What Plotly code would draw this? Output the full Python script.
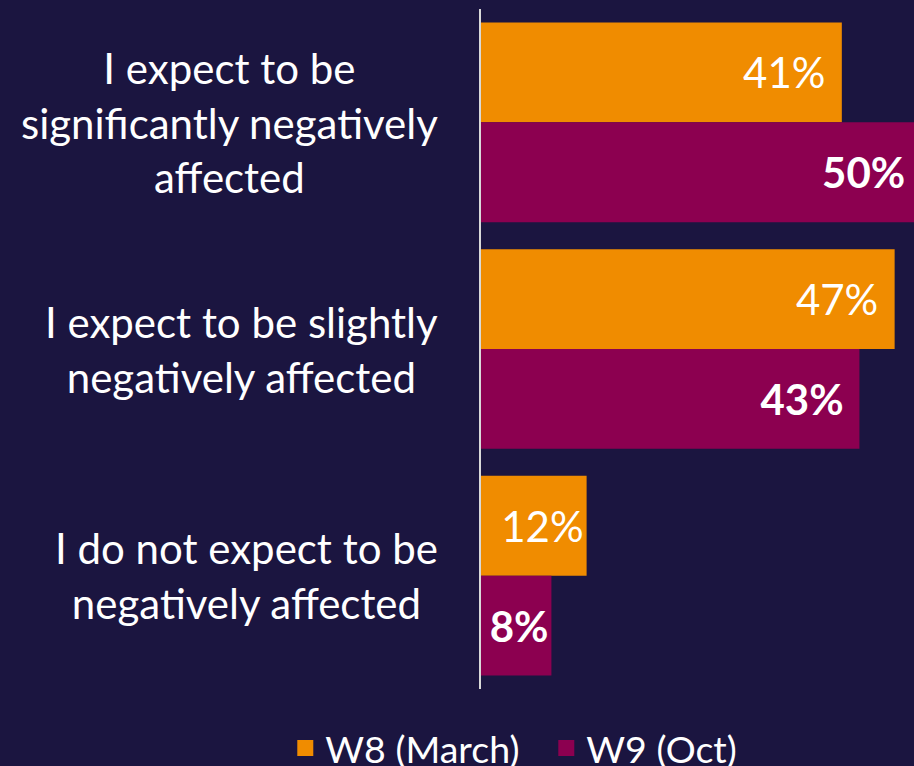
import plotly.graph_objects as go

categories = [
    "I expect to be<br>significantly negatively<br>affected",
    "I expect to be slightly<br>negatively affected",
    "I do not expect to be<br>negatively affected",
]
series_names = ["W8 (March)", "W9 (Oct)"]
w8_values = [41, 47, 12]
w9_values = [50, 43, 8]

BG = "#1b1540"
ORANGE = "#F08C00"
MAGENTA = "#8C0050"
FONT = "Lato"
PAD = "\u00a0\u200a"

def labels(vals):
    return [f"{v}%" + (PAD if v >= 20 else "") for v in vals]

fig = go.Figure()
fig.add_trace(go.Bar(
    y=categories, x=w8_values, orientation="h", name=series_names[0],
    marker=dict(color=ORANGE, line=dict(width=0)),
    text=labels(w8_values), textposition="inside", insidetextanchor="end",
    constraintext="none",
    textfont=dict(family=FONT, size=42, color="white"),
    showlegend=False, hoverinfo="skip",
))
fig.add_trace(go.Bar(
    y=categories, x=w9_values, orientation="h", name=series_names[1],
    marker=dict(color=MAGENTA, line=dict(width=0)),
    text=labels(w9_values), textposition="inside", insidetextanchor="end",
    constraintext="none",
    textfont=dict(family=FONT, size=42, color="white", weight="bold"),
    showlegend=False, hoverinfo="skip",
))
# legend entries
for name, col in zip(series_names, [ORANGE, MAGENTA]):
    fig.add_trace(go.Scatter(
        x=[None], y=[None], mode="markers", name=name,
        marker=dict(symbol="square", size=16, color=col),
    ))

for cat in categories:
    fig.add_annotation(
        x=0, xref="paper", y=cat, yref="y", text=cat,
        xanchor="right", xshift=-41, align="center", showarrow=False,
        font=dict(family=FONT, size=42, color="white"),
    )

fig.update_layout(
    width=914, height=766,
    paper_bgcolor=BG, plot_bgcolor=BG,
    margin=dict(l=481, r=0, t=9, b=77, autoexpand=False),
    barmode="group", bargap=0.119, bargroupgap=0,
    xaxis=dict(range=[0, 49.2], visible=False, showgrid=False, zeroline=False),
    yaxis=dict(autorange="reversed", showticklabels=False, ticks="",
               showgrid=False, zeroline=False,
               showline=True, linecolor="#d9d9d9", linewidth=2),
    showlegend=True,
    legend=dict(orientation="h", xref="paper", yref="paper",
                x=-0.452, xanchor="left", y=-0.087, yanchor="middle",
                entrywidth=216,
                font=dict(family=FONT, size=37.5, color="white"),
                bgcolor="rgba(0,0,0,0)", itemclick=False),
    font=dict(family=FONT, color="white"),
)

fig.write_html(
    "out.html",
    config={"displayModeBar": False},
    post_script="document.body.style.margin='0px';document.body.style.background='%s';" % BG,
)
